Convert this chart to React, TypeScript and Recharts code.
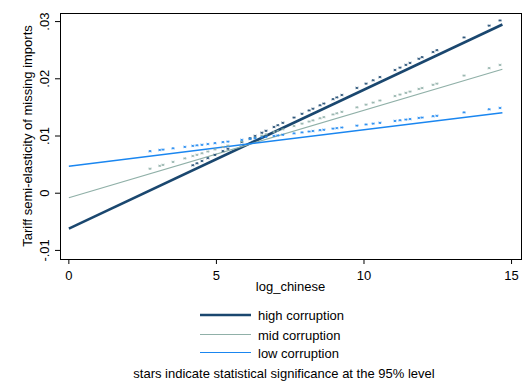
import React from 'react';
import { ComposedChart, Line, Scatter, XAxis, YAxis, ReferenceArea, Legend, Label } from 'recharts';

const FONT = '"Liberation Sans", Arial, Helvetica, sans-serif';

const seriesNames = ['high corruption', 'mid corruption', 'low corruption'];
const seriesColors = ['#1a476f', '#90b0a8', '#1a86f0'];
const seriesWidths = [2.6, 1.2, 1.5];

const lineX = [0, 14.69];
const highLineY = [-0.0062, 0.02949];
const midLineY = [-0.0008, 0.02166];
const lowLineY = [0.00472, 0.01407];

const starX = [2.75, 3.08, 3.19, 3.53, 3.93, 4.2, 4.34, 4.51, 4.71, 4.95, 5.22, 5.39, 5.86, 6.14, 6.31, 6.54, 6.68, 6.95, 7.08, 7.25, 7.63, 7.9, 8.14, 8.27, 8.51, 8.64, 8.95, 9.08, 9.25, 9.76, 10.07, 10.31, 10.54, 11.05, 11.22, 11.42, 11.56, 11.86, 11.97, 12.34, 12.47, 13.39, 14.24, 14.61];
const highStarY = [null, null, null, null, null, 0.00401, 0.00435, 0.00476, 0.00525, 0.00583, 0.00649, 0.0069, 0.00805, 0.00873, 0.00914, 0.0097, 0.01004, 0.0107, 0.01101, 0.01143, 0.01235, 0.01301, 0.01359, 0.0139, 0.01449, 0.0148, 0.01556, 0.01587, 0.01629, 0.01753, 0.01828, 0.01886, 0.01942, 0.02066, 0.02108, 0.02156, 0.0219, 0.02263, 0.0229, 0.0238, 0.02412, 0.02635, 0.02842, 0.02932];
const midStarY = [0.00341, 0.00391, 0.00408, 0.0046, 0.00521, 0.00563, 0.00584, 0.0061, 0.00641, 0.00677, 0.00719, 0.00745, 0.00817, 0.00859, 0.00885, 0.00921, 0.00942, 0.00983, 0.01003, 0.01029, 0.01087, 0.01129, 0.01165, 0.01185, 0.01222, 0.01242, 0.01289, 0.01309, 0.01335, 0.01413, 0.01461, 0.01497, 0.01533, 0.01611, 0.01637, 0.01667, 0.01689, 0.01735, 0.01751, 0.01808, 0.01828, 0.01969, 0.02099, 0.02155];
const lowStarY = [0.00647, 0.00668, 0.00675, 0.00697, 0.00722, 0.0074, 0.00749, 0.00759, 0.00772, 0.00787, 0.00805, 0.00815, 0.00845, 0.00863, 0.00874, 0.00889, 0.00898, 0.00915, 0.00923, 0.00934, 0.00958, 0.00975, 0.00991, 0.00999, 0.01014, 0.01022, 0.01042, 0.0105, 0.01061, 0.01094, 0.01114, 0.01129, 0.01143, 0.01176, 0.01187, 0.012, 0.01208, 0.01228, 0.01235, 0.01258, 0.01266, 0.01325, 0.01379, 0.01403];

const xTicks = [0, 5, 10, 15];
const xTickLabels = ['0', '5', '10', '15'];
const yTicks = [-0.01, 0, 0.01, 0.02, 0.03];
const yTickLabels = ['-.01', '0', '.01', '.02', '.03'];
const xDomain = [-0.3, 15.32];
const yDomain = [-0.0115, 0.0315];

const xTitle = 'log_chinese';
const yTitle = 'Tariff semi-elasticity of missing imports';
const note = 'stars indicate statistical significance at the 95% level';

const toRows = (xs: number[], ys: (number | null)[]) =>
  xs.map((x, i) => ({ x, y: ys[i] })).filter((r) => r.y !== null && r.y !== undefined);

const lineRows = [toRows(lineX, highLineY), toRows(lineX, midLineY), toRows(lineX, lowLineY)];
const starRows = [toRows(starX, highStarY), toRows(starX, midStarY), toRows(starX, lowStarY)];

const YTick = (props: any) => {
  const { x, y, payload } = props;
  const idx = yTicks.indexOf(payload.value);
  const label = idx >= 0 ? yTickLabels[idx] : String(payload.value);
  return (
    <text x={x} y={y} transform={`rotate(-90, ${x}, ${y})`} textAnchor="middle" fontSize={13} fill="#000" fontFamily={FONT}>
      {label}
    </text>
  );
};

const YTitle = (props: any) => {
  const vb = props.viewBox || { x: 0, y: 13, width: 60, height: 246 };
  const x = vb.x + 32;
  const y = vb.y + vb.height / 2;
  return (
    <text x={x} y={y} transform={`rotate(-90, ${x}, ${y})`} textAnchor="middle" fontSize={13} fill="#000" fontFamily={FONT}>
      {yTitle}
    </text>
  );
};

const XTitle = (props: any) => {
  const vb = props.viewBox || { x: 60, y: 259, width: 461, height: 40 };
  return (
    <text x={vb.x + vb.width / 2} y={vb.y + 32} textAnchor="middle" fontSize={13} fill="#000" fontFamily={FONT}>
      {xTitle}
    </text>
  );
};

// small asterisk marker drawn just above the fitted point
const makeStar = (color: string) => (props: any) => {
  const { cx, cy } = props;
  if (cx == null || cy == null || isNaN(cx) || isNaN(cy)) return <g />;
  const c = cy - 5;
  const d = `M${cx - 1.6},${c} L${cx + 1.6},${c} M${cx - 1},${c - 1.2} L${cx + 1},${c + 1.2} M${cx - 1},${c + 1.2} L${cx + 1},${c - 1.2}`;
  return <path d={d} stroke={color} strokeWidth={0.9} fill="none" opacity={0.85} />;
};

const rowLineY = [15, 34.5, 52.5];

const LegendContent = () => (
  <svg width={532} height={87} style={{ display: 'block' }}>
    {seriesNames.map((name, i) => (
      <g key={name}>
        <line x1={200} x2={251} y1={rowLineY[i]} y2={rowLineY[i]} stroke={seriesColors[i]} strokeWidth={i === 0 ? 2.6 : 1.2} />
        <text x={258} y={rowLineY[i] + 5} fontSize={13} fill="#000" fontFamily={FONT}>
          {name}
        </text>
      </g>
    ))}
    <text x={284} y={78} textAnchor="middle" fontSize={13} fill="#000" fontFamily={FONT}>
      {note}
    </text>
  </svg>
);

export default function App() {
  return (
    <div style={{ position: 'absolute', left: 0, top: 0, width: 532, height: 387, background: '#fff' }}>
      <ComposedChart width={532} height={387} margin={{ top: 13, right: 11, bottom: 88, left: 0 }}>
        <XAxis
          type="number"
          dataKey="x"
          domain={xDomain}
          allowDataOverflow
          ticks={xTicks}
          interval={0}
          tickFormatter={(v: number) => xTickLabels[xTicks.indexOf(v)] ?? String(v)}
          tickSize={5}
          tickMargin={7}
          tickLine={{ stroke: '#000' }}
          axisLine={false}
          height={40}
          tick={{ fontSize: 13, fill: '#000', fontFamily: FONT }}
        >
          <Label content={XTitle} />
        </XAxis>
        <YAxis
          type="number"
          dataKey="y"
          domain={yDomain}
          allowDataOverflow
          ticks={yTicks}
          interval={0}
          tickSize={5}
          tickMargin={6}
          tickLine={{ stroke: '#000' }}
          axisLine={false}
          width={60}
          tick={YTick}
        >
          <Label content={YTitle} />
        </YAxis>
        <ReferenceArea
          x1={xDomain[0]}
          x2={xDomain[1]}
          y1={yDomain[0]}
          y2={yDomain[1]}
          fill="none"
          fillOpacity={0}
          stroke="#000"
          strokeWidth={1}
          shapeRendering="crispEdges"
          ifOverflow="visible"
        />
        {lineRows.map((rows, i) => (
          <Line
            key={'line' + i}
            data={rows}
            dataKey="y"
            type="linear"
            stroke={seriesColors[i]}
            strokeWidth={seriesWidths[i]}
            dot={false}
            activeDot={false}
            isAnimationActive={false}
            legendType="none"
            name={seriesNames[i]}
          />
        ))}
        {starRows.map((rows, i) => (
          <Scatter
            key={'star' + i}
            data={rows}
            dataKey="y"
            fill={seriesColors[i]}
            shape={makeStar(seriesColors[i])}
            isAnimationActive={false}
            legendType="none"
          />
        ))}
        <Legend
          layout="vertical"
          align="center"
          verticalAlign="middle"
          wrapperStyle={{ top: 300, left: 0, width: 532, height: 87 }}
          content={LegendContent}
        />
      </ComposedChart>
    </div>
  );
}
